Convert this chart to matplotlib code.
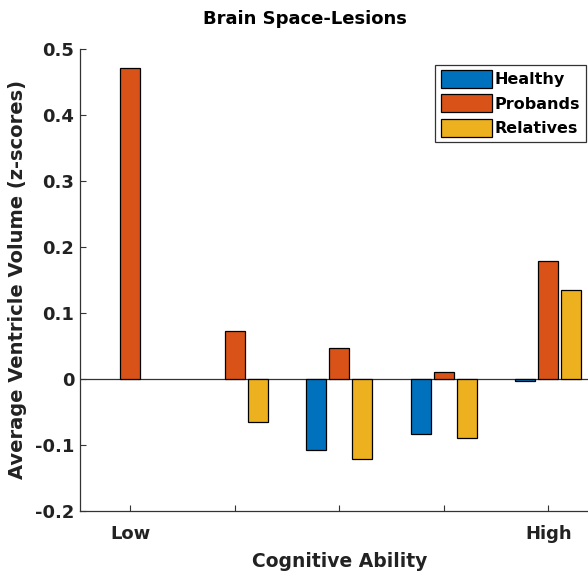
import matplotlib.pyplot as plt
import numpy as np

plt.rcParams['font.family'] = ['DejaVu Sans']
plt.rcParams['font.weight'] = 'bold'

# данные
groups = [1, 2, 3, 4, 5]
group_labels = ['Low', '', '', '', 'High']
healthy = [np.nan, np.nan, -0.108, -0.083, -0.004]
probands = [0.471, 0.073, 0.046, 0.010, 0.179]
relatives = [np.nan, -0.066, -0.122, -0.089, 0.135]
series_names = ['Healthy', 'Probands', 'Relatives']
yticks = [-0.2, -0.1, 0, 0.1, 0.2, 0.3, 0.4, 0.5]
ytick_labels = ['-0.2', '-0.1', '0', '0.1', '0.2', '0.3', '0.4', '0.5']

colors = ['#0072BD', '#D95319', '#EDB120']

fig = plt.figure(figsize=(5.88, 5.74), dpi=100)
ax = fig.add_axes([0.136, 0.110, 0.864, 0.805])

x = np.array(groups, dtype=float)
w = 0.19
step = 0.22
for i, (vals, name) in enumerate(zip([healthy, probands, relatives], series_names)):
    ax.bar(x + (i - 1) * step, vals, width=w, color=colors[i], edgecolor='black',
           linewidth=0.9, label=name)

ax.axhline(0, color='#333333', linewidth=0.9, zorder=0.5)
ax.set_xlim(0.52, 5.38)
ax.set_ylim(-0.2, 0.5)
ax.set_yticks(yticks)
ax.set_yticklabels(ytick_labels)
ax.set_xticks(groups)
ax.set_xticklabels(group_labels)
ax.tick_params(direction='in', length=4, width=0.8, labelsize=13, colors='#333333',
               labelcolor='#222222')
ax.tick_params(axis='y', pad=4)
ax.tick_params(axis='x', pad=10)
for s in ['top', 'right']:
    ax.spines[s].set_visible(False)
for s in ['left', 'bottom']:
    ax.spines[s].set_color('#333333')
    ax.spines[s].set_linewidth(0.9)

# заголовок чуть левее центра осей, как в оригинале
fig.text(0.519, 0.967, 'Brain Space-Lesions', fontsize=13, fontweight='bold',
         ha='center', va='center', color='black')
ax.set_xlabel('Cognitive Ability', fontsize=13.5, fontweight='bold', color='#222222')
ax.xaxis.set_label_coords(0.512, -0.088)
ax.set_ylabel('Average Ventricle Volume (z-scores)', fontsize=14, fontweight='bold',
              color='#222222', labelpad=6)

leg = ax.legend(loc='upper right', bbox_to_anchor=(0.996, 0.966), borderaxespad=0,
                fontsize=11.5, handlelength=3.2, handleheight=1.35, labelspacing=0.4,
                handletextpad=0.2, borderpad=0.35, fancybox=False, framealpha=1)
leg.get_frame().set_edgecolor('#333333')
leg.get_frame().set_linewidth(0.9)

plt.savefig('out.png', dpi=100)
